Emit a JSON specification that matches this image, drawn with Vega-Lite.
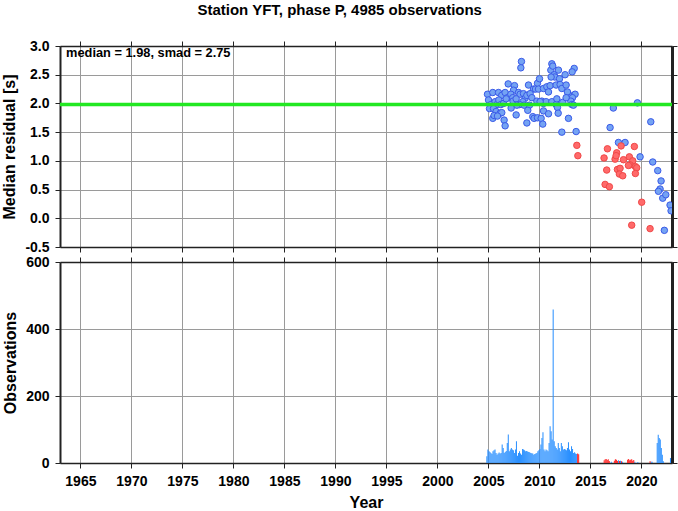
{
  "$schema": "https://vega.github.io/schema/vega-lite/v6.json",
  "padding": {"left": 1, "top": 3, "right": 0, "bottom": 0},
  "title": {"text": "Station YFT, phase P, 4985 observations", "fontSize": 15, "font": "Liberation Sans", "fontWeight": "bold", "anchor": "middle", "offset": 21, "color": "#000000"},
  "spacing": 15,
  "bounds": "flush",
  "datasets": {
    "points": [
      {"year": 2008.24, "res": 2.73, "flag": "ok"}, {"year": 2008.18, "res": 2.62, "flag": "ok"}, {"year": 2011.22, "res": 2.69, "flag": "ok"},
      {"year": 2011.12, "res": 2.58, "flag": "ok"}, {"year": 2011.31, "res": 2.65, "flag": "ok"}, {"year": 2011.45, "res": 2.50, "flag": "ok"},
      {"year": 2011.87, "res": 2.58, "flag": "ok"}, {"year": 2011.51, "res": 2.46, "flag": "ok"}, {"year": 2011.97, "res": 2.43, "flag": "ok"},
      {"year": 2011.15, "res": 2.46, "flag": "ok"}, {"year": 2013.41, "res": 2.61, "flag": "ok"}, {"year": 2013.21, "res": 2.55, "flag": "ok"},
      {"year": 2012.52, "res": 2.50, "flag": "ok"}, {"year": 2009.81, "res": 2.35, "flag": "ok"}, {"year": 2010.01, "res": 2.43, "flag": "ok"},
      {"year": 2006.94, "res": 2.34, "flag": "ok"}, {"year": 2007.56, "res": 2.31, "flag": "ok"}, {"year": 2007.46, "res": 2.23, "flag": "ok"},
      {"year": 2008.93, "res": 2.32, "flag": "ok"}, {"year": 2009.42, "res": 2.25, "flag": "ok"}, {"year": 2009.62, "res": 2.25, "flag": "ok"},
      {"year": 2009.91, "res": 2.25, "flag": "ok"}, {"year": 2010.40, "res": 2.26, "flag": "ok"}, {"year": 2010.73, "res": 2.29, "flag": "ok"},
      {"year": 2010.89, "res": 2.20, "flag": "ok"}, {"year": 2011.05, "res": 2.31, "flag": "ok"}, {"year": 2011.64, "res": 2.32, "flag": "ok"},
      {"year": 2012.03, "res": 2.33, "flag": "ok"}, {"year": 2012.20, "res": 2.26, "flag": "ok"}, {"year": 2012.62, "res": 2.32, "flag": "ok"},
      {"year": 2012.85, "res": 2.16, "flag": "ok"}, {"year": 2013.50, "res": 2.16, "flag": "ok"}, {"year": 2013.24, "res": 2.10, "flag": "ok"},
      {"year": 2013.08, "res": 2.04, "flag": "ok"}, {"year": 2012.75, "res": 2.20, "flag": "ok"}, {"year": 2004.91, "res": 2.16, "flag": "ok"},
      {"year": 2005.43, "res": 2.19, "flag": "ok"}, {"year": 2005.99, "res": 2.19, "flag": "ok"}, {"year": 2006.31, "res": 2.14, "flag": "ok"},
      {"year": 2006.64, "res": 2.19, "flag": "ok"}, {"year": 2006.87, "res": 2.10, "flag": "ok"}, {"year": 2007.20, "res": 2.16, "flag": "ok"},
      {"year": 2007.39, "res": 2.10, "flag": "ok"}, {"year": 2007.41, "res": 2.04, "flag": "ok"}, {"year": 2007.95, "res": 2.19, "flag": "ok"},
      {"year": 2008.11, "res": 2.16, "flag": "ok"}, {"year": 2008.44, "res": 2.17, "flag": "ok"}, {"year": 2008.60, "res": 2.09, "flag": "ok"},
      {"year": 2008.77, "res": 2.14, "flag": "ok"}, {"year": 2009.09, "res": 2.17, "flag": "ok"}, {"year": 2009.26, "res": 2.10, "flag": "ok"},
      {"year": 2007.72, "res": 2.08, "flag": "ok"}, {"year": 2008.37, "res": 2.03, "flag": "ok"}, {"year": 2008.05, "res": 1.98, "flag": "ok"},
      {"year": 2008.50, "res": 1.97, "flag": "ok"}, {"year": 2009.03, "res": 1.97, "flag": "ok"}, {"year": 2007.79, "res": 1.97, "flag": "ok"},
      {"year": 2005.01, "res": 2.06, "flag": "ok"}, {"year": 2005.24, "res": 1.98, "flag": "ok"}, {"year": 2005.11, "res": 1.91, "flag": "ok"},
      {"year": 2005.66, "res": 2.03, "flag": "ok"}, {"year": 2005.82, "res": 1.98, "flag": "ok"}, {"year": 2006.02, "res": 2.06, "flag": "ok"},
      {"year": 2006.22, "res": 1.98, "flag": "ok"}, {"year": 2006.48, "res": 2.00, "flag": "ok"}, {"year": 2006.74, "res": 2.08, "flag": "ok"},
      {"year": 2010.24, "res": 2.04, "flag": "ok"}, {"year": 2010.40, "res": 2.00, "flag": "ok"}, {"year": 2010.66, "res": 2.03, "flag": "ok"},
      {"year": 2009.75, "res": 2.04, "flag": "ok"}, {"year": 2010.07, "res": 2.03, "flag": "ok"}, {"year": 2011.22, "res": 2.03, "flag": "ok"},
      {"year": 2011.64, "res": 1.98, "flag": "ok"}, {"year": 2011.71, "res": 2.08, "flag": "ok"}, {"year": 2012.29, "res": 2.02, "flag": "ok"},
      {"year": 2012.62, "res": 2.10, "flag": "ok"}, {"year": 2013.18, "res": 1.98, "flag": "ok"}, {"year": 2013.34, "res": 1.97, "flag": "ok"},
      {"year": 2011.77, "res": 1.93, "flag": "ok"}, {"year": 2010.40, "res": 1.87, "flag": "ok"}, {"year": 2010.89, "res": 1.82, "flag": "ok"},
      {"year": 2011.84, "res": 1.83, "flag": "ok"}, {"year": 2008.86, "res": 1.88, "flag": "ok"}, {"year": 2007.72, "res": 1.80, "flag": "ok"},
      {"year": 2007.23, "res": 1.92, "flag": "ok"}, {"year": 2005.50, "res": 1.91, "flag": "ok"}, {"year": 2005.76, "res": 1.86, "flag": "ok"},
      {"year": 2006.15, "res": 1.83, "flag": "ok"}, {"year": 2006.31, "res": 1.84, "flag": "ok"}, {"year": 2005.43, "res": 1.74, "flag": "ok"},
      {"year": 2005.56, "res": 1.79, "flag": "ok"}, {"year": 2005.89, "res": 1.78, "flag": "ok"}, {"year": 2006.54, "res": 1.71, "flag": "ok"},
      {"year": 2006.64, "res": 1.61, "flag": "ok"}, {"year": 2009.35, "res": 1.77, "flag": "ok"}, {"year": 2009.48, "res": 1.74, "flag": "ok"},
      {"year": 2009.81, "res": 1.75, "flag": "ok"}, {"year": 2010.17, "res": 1.74, "flag": "ok"}, {"year": 2010.33, "res": 1.64, "flag": "ok"},
      {"year": 2008.77, "res": 1.66, "flag": "ok"}, {"year": 2012.85, "res": 1.74, "flag": "ok"}, {"year": 2012.20, "res": 1.50, "flag": "ok"},
      {"year": 2013.60, "res": 1.51, "flag": "ok"},
      {"year": 2017.25, "res": 1.92, "flag": "ok"}, {"year": 2016.93, "res": 1.58, "flag": "ok"}, {"year": 2019.61, "res": 2.01, "flag": "ok"},
      {"year": 2020.92, "res": 1.68, "flag": "ok"}, {"year": 2017.75, "res": 1.32, "flag": "ok"}, {"year": 2018.40, "res": 1.32, "flag": "ok"},
      {"year": 2019.87, "res": 1.07, "flag": "ok"}, {"year": 2021.11, "res": 0.98, "flag": "ok"}, {"year": 2021.60, "res": 0.83, "flag": "ok"},
      {"year": 2021.93, "res": 0.65, "flag": "ok"}, {"year": 2021.83, "res": 0.51, "flag": "ok"}, {"year": 2021.67, "res": 0.47, "flag": "ok"},
      {"year": 2022.09, "res": 0.35, "flag": "ok"}, {"year": 2022.39, "res": 0.41, "flag": "ok"}, {"year": 2022.81, "res": 0.23, "flag": "ok"},
      {"year": 2022.91, "res": 0.13, "flag": "ok"}, {"year": 2022.25, "res": -0.21, "flag": "ok"},
      {"year": 2013.67, "res": 1.27, "flag": "outlier"}, {"year": 2013.77, "res": 1.09, "flag": "outlier"}, {"year": 2016.67, "res": 1.21, "flag": "outlier"},
      {"year": 2016.34, "res": 1.05, "flag": "outlier"}, {"year": 2017.58, "res": 1.14, "flag": "outlier"}, {"year": 2017.42, "res": 1.03, "flag": "outlier"},
      {"year": 2017.52, "res": 1.09, "flag": "outlier"}, {"year": 2018.01, "res": 1.26, "flag": "outlier"}, {"year": 2019.31, "res": 1.25, "flag": "outlier"},
      {"year": 2018.24, "res": 1.02, "flag": "outlier"}, {"year": 2018.82, "res": 1.07, "flag": "outlier"}, {"year": 2019.15, "res": 1.00, "flag": "outlier"},
      {"year": 2018.89, "res": 0.93, "flag": "outlier"}, {"year": 2018.73, "res": 0.92, "flag": "outlier"}, {"year": 2016.60, "res": 0.84, "flag": "outlier"},
      {"year": 2017.65, "res": 0.85, "flag": "outlier"}, {"year": 2017.91, "res": 0.87, "flag": "outlier"}, {"year": 2017.84, "res": 0.77, "flag": "outlier"},
      {"year": 2018.17, "res": 0.74, "flag": "outlier"}, {"year": 2019.41, "res": 0.90, "flag": "outlier"}, {"year": 2019.54, "res": 0.88, "flag": "outlier"},
      {"year": 2019.41, "res": 0.78, "flag": "outlier"}, {"year": 2016.44, "res": 0.59, "flag": "outlier"}, {"year": 2016.86, "res": 0.55, "flag": "outlier"},
      {"year": 2020.03, "res": 0.28, "flag": "outlier"}, {"year": 2019.05, "res": -0.12, "flag": "outlier"}, {"year": 2020.85, "res": -0.18, "flag": "outlier"}
    ],
    "bins": [
      {"t0": 2004.8, "t1": 2004.9, "n": 20, "flag": "ok"}, {"t0": 2004.9, "t1": 2005.0, "n": 40, "flag": "ok"},
      {"t0": 2005.0, "t1": 2005.1, "n": 36, "flag": "ok"}, {"t0": 2005.1, "t1": 2005.2, "n": 33, "flag": "ok"},
      {"t0": 2005.2, "t1": 2005.3, "n": 30, "flag": "ok"}, {"t0": 2005.3, "t1": 2005.4, "n": 27, "flag": "ok"},
      {"t0": 2005.4, "t1": 2005.5, "n": 35, "flag": "ok"}, {"t0": 2005.5, "t1": 2005.6, "n": 38, "flag": "ok"},
      {"t0": 2005.6, "t1": 2005.7, "n": 40, "flag": "ok"}, {"t0": 2005.7, "t1": 2005.8, "n": 30, "flag": "ok"},
      {"t0": 2005.8, "t1": 2005.9, "n": 25, "flag": "ok"}, {"t0": 2005.9, "t1": 2006.0, "n": 28, "flag": "ok"},
      {"t0": 2006.0, "t1": 2006.1, "n": 31, "flag": "ok"}, {"t0": 2006.1, "t1": 2006.2, "n": 28, "flag": "ok"},
      {"t0": 2006.2, "t1": 2006.3, "n": 30, "flag": "ok"}, {"t0": 2006.3, "t1": 2006.4, "n": 55, "flag": "ok"},
      {"t0": 2006.4, "t1": 2006.5, "n": 45, "flag": "ok"}, {"t0": 2006.5, "t1": 2006.6, "n": 30, "flag": "ok"},
      {"t0": 2006.6, "t1": 2006.7, "n": 33, "flag": "ok"}, {"t0": 2006.7, "t1": 2006.8, "n": 36, "flag": "ok"},
      {"t0": 2006.8, "t1": 2006.9, "n": 60, "flag": "ok"}, {"t0": 2006.9, "t1": 2007.0, "n": 85, "flag": "ok"},
      {"t0": 2007.0, "t1": 2007.1, "n": 35, "flag": "ok"}, {"t0": 2007.1, "t1": 2007.2, "n": 40, "flag": "ok"},
      {"t0": 2007.2, "t1": 2007.3, "n": 45, "flag": "ok"}, {"t0": 2007.3, "t1": 2007.4, "n": 40, "flag": "ok"},
      {"t0": 2007.4, "t1": 2007.5, "n": 38, "flag": "ok"}, {"t0": 2007.5, "t1": 2007.6, "n": 30, "flag": "ok"},
      {"t0": 2007.6, "t1": 2007.7, "n": 40, "flag": "ok"}, {"t0": 2007.7, "t1": 2007.8, "n": 65, "flag": "ok"},
      {"t0": 2007.8, "t1": 2007.9, "n": 22, "flag": "ok"}, {"t0": 2007.9, "t1": 2008.0, "n": 30, "flag": "ok"},
      {"t0": 2008.0, "t1": 2008.1, "n": 35, "flag": "ok"}, {"t0": 2008.1, "t1": 2008.2, "n": 28, "flag": "ok"},
      {"t0": 2008.2, "t1": 2008.3, "n": 25, "flag": "ok"}, {"t0": 2008.3, "t1": 2008.4, "n": 42, "flag": "ok"},
      {"t0": 2008.4, "t1": 2008.5, "n": 40, "flag": "ok"}, {"t0": 2008.5, "t1": 2008.6, "n": 38, "flag": "ok"},
      {"t0": 2008.6, "t1": 2008.7, "n": 35, "flag": "ok"}, {"t0": 2008.7, "t1": 2008.8, "n": 36, "flag": "ok"},
      {"t0": 2008.8, "t1": 2008.9, "n": 34, "flag": "ok"}, {"t0": 2008.9, "t1": 2009.0, "n": 33, "flag": "ok"},
      {"t0": 2009.0, "t1": 2009.1, "n": 32, "flag": "ok"}, {"t0": 2009.1, "t1": 2009.2, "n": 30, "flag": "ok"},
      {"t0": 2009.2, "t1": 2009.3, "n": 29, "flag": "ok"}, {"t0": 2009.3, "t1": 2009.4, "n": 28, "flag": "ok"},
      {"t0": 2009.4, "t1": 2009.5, "n": 25, "flag": "ok"}, {"t0": 2009.5, "t1": 2009.6, "n": 27, "flag": "ok"},
      {"t0": 2009.6, "t1": 2009.7, "n": 28, "flag": "ok"}, {"t0": 2009.7, "t1": 2009.8, "n": 30, "flag": "ok"},
      {"t0": 2009.8, "t1": 2009.9, "n": 35, "flag": "ok"}, {"t0": 2009.9, "t1": 2010.0, "n": 38, "flag": "ok"},
      {"t0": 2010.0, "t1": 2010.1, "n": 42, "flag": "ok"}, {"t0": 2010.1, "t1": 2010.2, "n": 55, "flag": "ok"},
      {"t0": 2010.2, "t1": 2010.3, "n": 75, "flag": "ok"}, {"t0": 2010.3, "t1": 2010.4, "n": 92, "flag": "ok"},
      {"t0": 2010.4, "t1": 2010.5, "n": 40, "flag": "ok"}, {"t0": 2010.5, "t1": 2010.6, "n": 35, "flag": "ok"},
      {"t0": 2010.6, "t1": 2010.7, "n": 40, "flag": "ok"}, {"t0": 2010.7, "t1": 2010.8, "n": 38, "flag": "ok"},
      {"t0": 2010.8, "t1": 2010.9, "n": 35, "flag": "ok"}, {"t0": 2010.9, "t1": 2011.0, "n": 60, "flag": "ok"},
      {"t0": 2011.0, "t1": 2011.1, "n": 110, "flag": "ok"}, {"t0": 2011.1, "t1": 2011.2, "n": 95, "flag": "ok"},
      {"t0": 2011.2, "t1": 2011.3, "n": 70, "flag": "ok"}, {"t0": 2011.3, "t1": 2011.4, "n": 458, "flag": "ok"},
      {"t0": 2011.4, "t1": 2011.5, "n": 65, "flag": "ok"}, {"t0": 2011.5, "t1": 2011.6, "n": 50, "flag": "ok"},
      {"t0": 2011.6, "t1": 2011.7, "n": 45, "flag": "ok"}, {"t0": 2011.7, "t1": 2011.8, "n": 40, "flag": "ok"},
      {"t0": 2011.8, "t1": 2011.9, "n": 60, "flag": "ok"}, {"t0": 2011.9, "t1": 2012.0, "n": 45, "flag": "ok"},
      {"t0": 2012.0, "t1": 2012.1, "n": 35, "flag": "ok"}, {"t0": 2012.1, "t1": 2012.2, "n": 60, "flag": "ok"},
      {"t0": 2012.2, "t1": 2012.3, "n": 50, "flag": "ok"}, {"t0": 2012.3, "t1": 2012.4, "n": 40, "flag": "ok"},
      {"t0": 2012.4, "t1": 2012.5, "n": 42, "flag": "ok"}, {"t0": 2012.5, "t1": 2012.6, "n": 40, "flag": "ok"},
      {"t0": 2012.6, "t1": 2012.7, "n": 38, "flag": "ok"}, {"t0": 2012.7, "t1": 2012.8, "n": 45, "flag": "ok"},
      {"t0": 2012.8, "t1": 2012.9, "n": 62, "flag": "ok"}, {"t0": 2012.9, "t1": 2013.0, "n": 40, "flag": "ok"},
      {"t0": 2013.0, "t1": 2013.1, "n": 35, "flag": "ok"}, {"t0": 2013.1, "t1": 2013.2, "n": 50, "flag": "ok"},
      {"t0": 2013.2, "t1": 2013.3, "n": 42, "flag": "ok"}, {"t0": 2013.3, "t1": 2013.4, "n": 30, "flag": "ok"},
      {"t0": 2013.4, "t1": 2013.5, "n": 32, "flag": "ok"}, {"t0": 2013.5, "t1": 2013.6, "n": 28, "flag": "ok"},
      {"t0": 2013.6, "t1": 2013.7, "n": 27, "flag": "ok"}, {"t0": 2013.7, "t1": 2013.8, "n": 28, "flag": "outlier"},
      {"t0": 2013.8, "t1": 2013.9, "n": 26, "flag": "outlier"},
      {"t0": 2016.3, "t1": 2016.4, "n": 8, "flag": "outlier"}, {"t0": 2016.4, "t1": 2016.5, "n": 11, "flag": "outlier"},
      {"t0": 2016.5, "t1": 2016.6, "n": 12, "flag": "outlier"}, {"t0": 2016.6, "t1": 2016.7, "n": 9, "flag": "outlier"},
      {"t0": 2016.7, "t1": 2016.8, "n": 11, "flag": "outlier"}, {"t0": 2016.8, "t1": 2016.9, "n": 6, "flag": "outlier"},
      {"t0": 2017.0, "t1": 2017.1, "n": 4, "flag": "ok"},
      {"t0": 2017.3, "t1": 2017.4, "n": 7, "flag": "outlier"}, {"t0": 2017.4, "t1": 2017.5, "n": 11, "flag": "outlier"},
      {"t0": 2017.5, "t1": 2017.6, "n": 10, "flag": "outlier"}, {"t0": 2017.6, "t1": 2017.7, "n": 6, "flag": "outlier"},
      {"t0": 2017.7, "t1": 2017.8, "n": 8, "flag": "ok"}, {"t0": 2017.8, "t1": 2017.9, "n": 6, "flag": "outlier"},
      {"t0": 2017.9, "t1": 2018.0, "n": 7, "flag": "ok"}, {"t0": 2018.0, "t1": 2018.1, "n": 5, "flag": "outlier"},
      {"t0": 2018.1, "t1": 2018.2, "n": 4, "flag": "ok"},
      {"t0": 2018.6, "t1": 2018.7, "n": 10, "flag": "outlier"}, {"t0": 2018.7, "t1": 2018.8, "n": 12, "flag": "outlier"},
      {"t0": 2018.8, "t1": 2018.9, "n": 8, "flag": "outlier"}, {"t0": 2018.9, "t1": 2019.0, "n": 10, "flag": "outlier"},
      {"t0": 2019.0, "t1": 2019.1, "n": 11, "flag": "outlier"}, {"t0": 2019.1, "t1": 2019.2, "n": 7, "flag": "outlier"},
      {"t0": 2019.2, "t1": 2019.3, "n": 9, "flag": "outlier"}, {"t0": 2019.3, "t1": 2019.4, "n": 4, "flag": "ok"},
      {"t0": 2019.6, "t1": 2019.7, "n": 3, "flag": "ok"},
      {"t0": 2020.8, "t1": 2020.9, "n": 5, "flag": "outlier"}, {"t0": 2020.9, "t1": 2021.0, "n": 4, "flag": "ok"},
      {"t0": 2021.0, "t1": 2021.1, "n": 4, "flag": "ok"},
      {"t0": 2021.5, "t1": 2021.6, "n": 60, "flag": "ok"}, {"t0": 2021.6, "t1": 2021.7, "n": 84, "flag": "ok"},
      {"t0": 2021.7, "t1": 2021.8, "n": 75, "flag": "ok"}, {"t0": 2021.8, "t1": 2021.9, "n": 70, "flag": "ok"},
      {"t0": 2021.9, "t1": 2022.0, "n": 45, "flag": "ok"}, {"t0": 2022.0, "t1": 2022.1, "n": 25, "flag": "ok"},
      {"t0": 2022.1, "t1": 2022.2, "n": 5, "flag": "ok"}, {"t0": 2022.8, "t1": 2022.9, "n": 15, "flag": "ok"}
    ]
  },
  "vconcat": [
    {
      "width": 612,
      "height": 201,
      "layer": [
        {
          "data": {"name": "points"},
          "mark": {"type": "point", "shape": "circle", "filled": true, "size": 42, "strokeWidth": 1, "opacity": 1, "clip": true},
          "encoding": {
            "x": {"field": "year", "type": "quantitative", "scale": {"domain": [1963, 2023], "nice": false, "zero": false},
                  "axis": {"orient": "bottom", "labels": false, "title": null, "grid": true, "values": [1965, 1970, 1975, 1980, 1985, 1990, 1995, 2000, 2005, 2010, 2015, 2020]}},
            "y": {"field": "res", "type": "quantitative", "scale": {"domain": [-0.5, 3.0], "nice": false, "zero": false},
                  "axis": {"orient": "left", "title": "Median residual [s]", "grid": true, "values": [-0.5, 0, 0.5, 1, 1.5, 2, 2.5, 3], "labelExpr": "replace(format(datum.value, '.1f'), '\u2212', '-')"}},
            "fill": {"field": "flag", "type": "nominal", "scale": {"domain": ["ok", "outlier"], "range": ["#74a3f3", "#ff6a6a"]}, "legend": null},
            "stroke": {"field": "flag", "type": "nominal", "scale": {"domain": ["ok", "outlier"], "range": ["#3a5ae8", "#f04848"]}, "legend": null}
          }
        },
        {
          "data": {"values": [{"median": 1.98}]},
          "mark": {"type": "rule", "color": "#22e822", "strokeWidth": 3.5},
          "encoding": {"y": {"field": "median", "type": "quantitative", "axis": null}}
        },
        {
          "data": {"values": [{"year": 1963.6, "res": 2.87, "label": "median = 1.98, smad = 2.75"}]},
          "mark": {"type": "text", "align": "left", "baseline": "middle", "fontSize": 12.8, "fontWeight": "bold", "font": "Liberation Sans", "color": "#000000"},
          "encoding": {
            "x": {"field": "year", "type": "quantitative", "axis": {"orient": "top", "labels": false, "grid": false, "title": null, "values": [1965, 1970, 1975, 1980, 1985, 1990, 1995, 2000, 2005, 2010, 2015, 2020]}},
            "y": {"field": "res", "type": "quantitative", "axis": {"orient": "right", "labels": false, "grid": false, "title": null, "domainWidth": 3, "values": [-0.5, 0, 0.5, 1, 1.5, 2, 2.5, 3]}},
            "text": {"field": "label"}
          }
        }
      ],
      "resolve": {"axis": {"x": "independent", "y": "independent"}}
    },
    {
      "width": 612,
      "height": 201,
      "data": {"name": "bins"},
      "layer": [
        {
          "transform": [{"filter": "datum.flag == 'ok'"}],
          "mark": {"type": "bar", "color": "#2a90ff"},
          "encoding": {
            "x": {"field": "t0", "type": "quantitative", "scale": {"domain": [1963, 2023], "nice": false, "zero": false},
                  "axis": {"orient": "bottom", "title": "Year", "grid": true, "format": "d", "values": [1965, 1970, 1975, 1980, 1985, 1990, 1995, 2000, 2005, 2010, 2015, 2020]}},
            "x2": {"field": "t1"},
            "y": {"field": "n", "type": "quantitative", "stack": null, "scale": {"domain": [0, 600], "nice": false, "zero": true},
                  "axis": {"orient": "left", "title": "Observations", "grid": true, "values": [0, 200, 400, 600]}},
            "y2": {"datum": 0}
          }
        },
        {
          "transform": [{"filter": "datum.flag == 'outlier'"}],
          "mark": {"type": "bar", "color": "#ff2020"},
          "encoding": {
            "x": {"field": "t0", "type": "quantitative", "axis": {"orient": "top", "labels": false, "grid": false, "title": null, "values": [1965, 1970, 1975, 1980, 1985, 1990, 1995, 2000, 2005, 2010, 2015, 2020]}},
            "x2": {"field": "t1"},
            "y": {"field": "n", "type": "quantitative", "stack": null, "axis": {"orient": "right", "labels": false, "grid": false, "title": null, "domainWidth": 3, "values": [0, 200, 400, 600]}},
            "y2": {"datum": 0}
          }
        }
      ],
      "resolve": {"axis": {"x": "independent", "y": "independent"}}
    }
  ],
  "config": {
    "view": {"stroke": null},
    "font": "Liberation Sans",
    "axis": {
      "labelFont": "Liberation Sans", "labelFontSize": 14, "labelFontWeight": "bold", "labelColor": "#000000",
      "titleFont": "Liberation Sans", "titleFontSize": 16, "titleFontWeight": "bold", "titleColor": "#000000",
      "domainColor": "#222222", "domainWidth": 1.5, "tickColor": "#222222", "tickSize": 5, "tickWidth": 1,
      "gridColor": "#9a9a9a", "gridWidth": 1, "gridOpacity": 1, "labelPadding": 6, "labelFlush": false, "labelOverlap": false
    },
    "axisLeft": {"domainWidth": 2, "titlePadding": 7},
    "axisBottom": {"titlePadding": 6}
  }
}
